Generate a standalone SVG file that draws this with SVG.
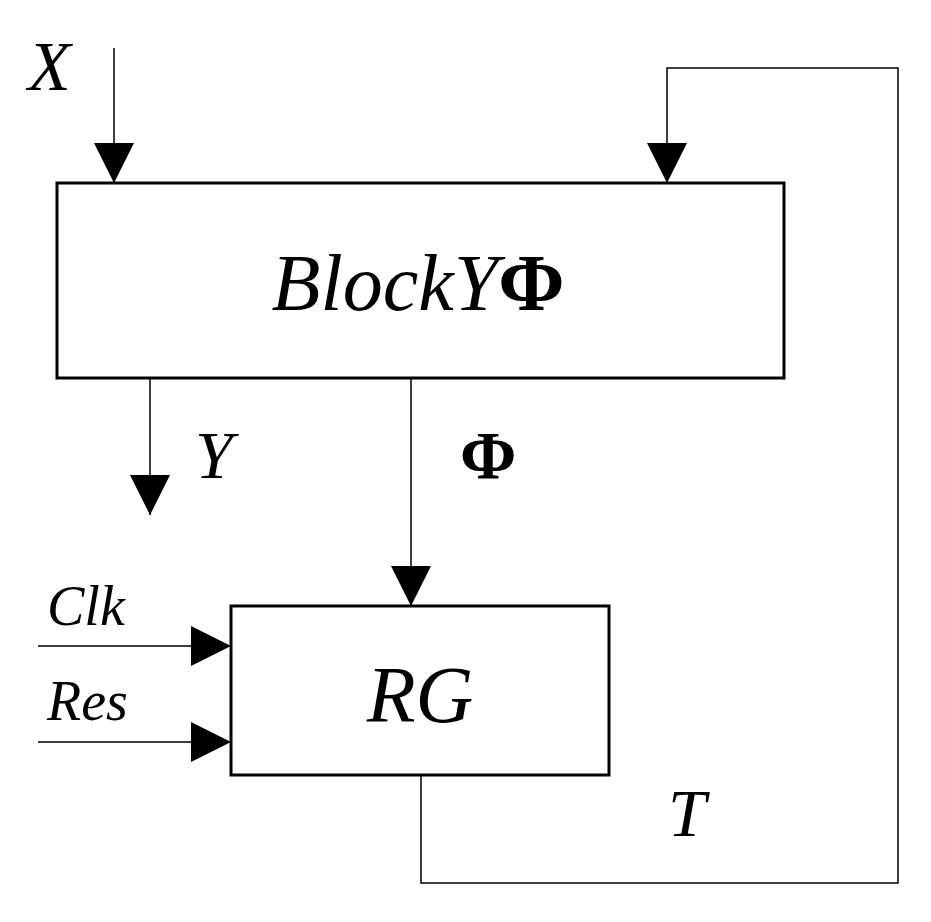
<svg xmlns="http://www.w3.org/2000/svg" width="931" height="922" viewBox="0 0 931 922">
<style>
.b{fill:#fff;stroke:#000;stroke-width:3}
.l{fill:none;stroke:#000;stroke-width:1.5}
.t{font-family:"Liberation Serif",serif;font-style:italic;fill:#000}
.u{font-family:"Liberation Serif",serif;fill:#000}
</style>
<defs><marker id="a" markerUnits="userSpaceOnUse" markerWidth="40" markerHeight="40" refX="40" refY="20" orient="auto"><path d="M0,0L40,20L0,40z" fill="#000"/></marker></defs>
<rect width="931" height="922" fill="#fff"/>
<g id="connectors">
<line class="l" x1="114" y1="48" x2="114" y2="183" marker-end="url(#a)"/>
<polyline class="l" points="421,775 421,883 898,883 898,68 667,68 667,183" marker-end="url(#a)"/>
<line class="l" x1="150" y1="378" x2="150" y2="515" marker-end="url(#a)"/>
<line class="l" x1="411" y1="378" x2="411" y2="606" marker-end="url(#a)"/>
<line class="l" x1="38" y1="646" x2="231" y2="646" marker-end="url(#a)"/>
<line class="l" x1="38" y1="742" x2="231" y2="742" marker-end="url(#a)"/>
</g>
<g id="block"><rect class="b" x="57" y="183" width="727" height="195"/>
<text class="t" x="418" y="310" font-size="80" text-anchor="middle">BlockY<tspan class="u" font-style="normal" font-weight="bold">Φ</tspan></text></g>
<g id="rg"><rect class="b" x="231" y="606" width="378" height="169"/>
<text class="t" x="420" y="722" font-size="80" text-anchor="middle">RG</text></g>
<text class="t" x="28" y="90" font-size="70">X</text>
<text class="t" x="195" y="478" font-size="68">Y</text>
<text class="u" x="460" y="478" font-size="68" font-weight="bold">Φ</text>
<text class="t" x="47" y="625" font-size="56">Clk</text>
<text class="t" x="47" y="720" font-size="56">Res</text>
<text class="t" x="668" y="836" font-size="68">T</text>
</svg>
